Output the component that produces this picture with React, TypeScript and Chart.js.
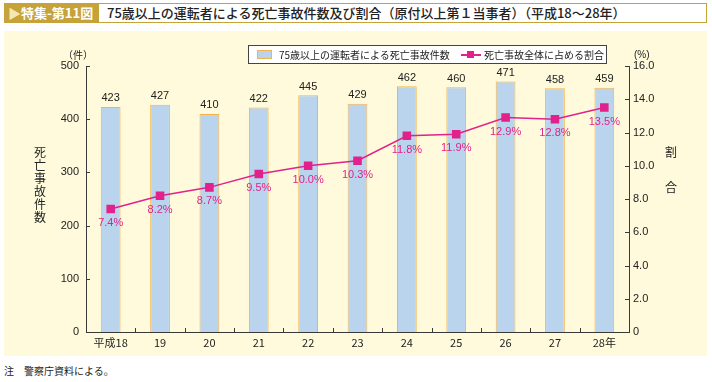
import React, { useEffect, useRef } from "react";
import { Chart, registerables } from "chart.js";

Chart.register(...registerables);

const categories = ["平成18", "19", "20", "21", "22", "23", "24", "25", "26", "27", "28年"];
const deathCounts = [423, 427, 410, 422, 445, 429, 462, 460, 471, 458, 459];
const deathRatios = [7.4, 8.2, 8.7, 9.5, 10.0, 10.3, 11.8, 11.9, 12.9, 12.8, 13.5];
const leftTicks = [0, 100, 200, 300, 400, 500];
const rightTicks = [0, 2, 4, 6, 8, 10, 12, 14, 16];

const JP = '"Noto Sans CJK JP", "Liberation Sans", sans-serif';
const NUM = '"Liberation Sans", Arial, sans-serif';
const MAGENTA = "#e2218b";
const AXIS = "#3a3a3a";

const labelPlugin = {
  id: "customLabels",
  afterDatasetsDraw(chart: any) {
    const ctx = chart.ctx;
    const x = chart.scales.x;
    const y = chart.scales.y;
    const y1 = chart.scales.y1;
    ctx.save();
    // inward ticks
    ctx.strokeStyle = AXIS;
    ctx.lineWidth = 1;
    ctx.beginPath();
    leftTicks.forEach((v) => {
      const py = Math.round(y.getPixelForValue(v)) + 0.5;
      ctx.moveTo(x.left, py);
      ctx.lineTo(x.left + 4, py);
    });
    rightTicks.forEach((v) => {
      const py = Math.round(y1.getPixelForValue(v)) + 0.5;
      ctx.moveTo(x.right, py);
      ctx.lineTo(x.right - 4, py);
    });
    for (let i = 1; i < categories.length; i++) {
      const px = Math.round((x.getPixelForValue(i - 1) + x.getPixelForValue(i)) / 2) + 0.5;
      ctx.moveTo(px, y.bottom);
      ctx.lineTo(px, y.bottom - 4);
    }
    ctx.stroke();

    // bar labels
    const barMeta = chart.getDatasetMeta(0);
    ctx.font = `11px ${NUM}`;
    ctx.fillStyle = "#222";
    ctx.textAlign = "center";
    ctx.textBaseline = "bottom";
    barMeta.data.forEach((el: any, i: number) => {
      ctx.fillText(String(deathCounts[i]), el.x, el.y - 3);
    });
    // line labels
    const lineMeta = chart.getDatasetMeta(1);
    ctx.fillStyle = MAGENTA;
    ctx.textBaseline = "middle";
    lineMeta.data.forEach((el: any, i: number) => {
      ctx.fillText(deathRatios[i].toFixed(1) + "%", el.x, el.y + 14);
    });
    ctx.restore();
  },
};

export default function App() {
  const ref = useRef<HTMLCanvasElement | null>(null);
  useEffect(() => {
    document.body.style.margin = "0";
    const chart = new Chart(ref.current as HTMLCanvasElement, {
      type: "bar",
      data: {
        labels: categories,
        datasets: [
          {
            type: "bar",
            label: "75歳以上の運転者による死亡事故件数",
            data: deathCounts,
            backgroundColor: "#bad4ee",
            borderColor: "#f3b24f",
            borderWidth: 1,
            borderSkipped: "bottom",
            categoryPercentage: 1,
            barPercentage: 0.4,
            yAxisID: "y",
            order: 2,
          },
          {
            type: "line",
            label: "死亡事故全体に占める割合",
            data: deathRatios,
            borderColor: MAGENTA,
            backgroundColor: MAGENTA,
            borderWidth: 1.5,
            pointStyle: "rect",
            pointRadius: 5,
            pointHoverRadius: 5,
            yAxisID: "y1",
            order: 1,
          },
        ] as any,
      },
      options: {
        responsive: false,
        animation: false,
        layout: { padding: { top: 35, left: 0, right: 0, bottom: 0 } },
        plugins: { legend: { display: false }, tooltip: { enabled: false } },
        scales: {
          x: {
            offset: true,
            grid: { display: false, drawTicks: false },
            border: { display: true, color: AXIS, width: 1 },
            ticks: { color: "#222", font: { size: 11, family: JP }, padding: 4, maxRotation: 0 },
            afterFit: (s: any) => { s.height = 24; },
          },
          y: {
            position: "left",
            min: 0,
            max: 500,
            grid: { display: false, drawTicks: false },
            border: { display: true, color: AXIS, width: 1 },
            ticks: { stepSize: 100, color: "#222", font: { size: 11, family: NUM }, padding: 7 },
            afterFit: (s: any) => { s.width = 82; },
          },
          y1: {
            position: "right",
            min: 0,
            max: 16,
            grid: { display: false, drawTicks: false },
            border: { display: true, color: AXIS, width: 1 },
            ticks: {
              stepSize: 2,
              color: "#222",
              font: { size: 11, family: NUM },
              padding: 4,
              callback: (v: any) => (v === 0 ? "0" : Number(v).toFixed(1)),
            },
            afterFit: (s: any) => { s.width = 78; },
          },
        },
      } as any,
      plugins: [labelPlugin],
    });
    return () => chart.destroy();
  }, []);

  const abs = (o: any) => ({ position: "absolute" as const, ...o });

  return (
    <div style={{ position: "relative", width: 712, height: 382, background: "#fff", fontFamily: JP, overflow: "hidden" }}>
      <div style={abs({ left: 4, top: 3, width: 94, height: 20, background: "#c6a23a", color: "#fff", fontSize: 13, fontWeight: 700, lineHeight: "20px", paddingLeft: 4, boxSizing: "border-box", whiteSpace: "nowrap" })}>
        <span style={{ color: "#f4e7b6" }}>▶</span>特集-第11図
      </div>
      <div style={abs({ left: 98, top: 3, width: 609, height: 20, border: "1px solid #c6a23a", background: "#fff", boxSizing: "border-box", fontSize: 13, fontWeight: 500, lineHeight: "18px", paddingLeft: 8, color: "#222", whiteSpace: "nowrap" })}>
        75歳以上の運転者による死亡事故件数及び割合（原付以上第１当事者）（平成18〜28年）
      </div>
      <div style={abs({ left: 4, top: 31, width: 703, height: 325, background: "#fefadb" })}>
        <canvas ref={ref} width={703} height={325} style={{ display: "block", width: 703, height: 325 }} />
        <div style={abs({ left: 244, top: 14, width: 359, height: 19, border: "1px solid #444", background: "#fff", boxSizing: "border-box", fontSize: 10, color: "#222", whiteSpace: "nowrap" })}>
          <div style={abs({ left: 8, top: 4, width: 15, height: 9, background: "#bad4ee", border: "1px solid #f3b24f", boxSizing: "border-box" })} />
          <div style={abs({ left: 30, top: 0, lineHeight: "17px" })}>75歳以上の運転者による死亡事故件数</div>
          <div style={abs({ left: 212, top: 8, width: 20, height: 1.5, background: MAGENTA })} />
          <div style={abs({ left: 218, top: 5, width: 7, height: 7, background: MAGENTA })} />
          <div style={abs({ left: 235, top: 0, lineHeight: "17px" })}>死亡事故全体に占める割合</div>
        </div>
        <div style={abs({ left: 59, top: 17, fontSize: 10, color: "#222", lineHeight: "14px" })}>（件）</div>
        <div style={abs({ left: 630, top: 17, fontSize: 10, color: "#222", lineHeight: "14px", fontFamily: NUM })}>(%)</div>
        <div style={abs({ left: 29, top: 114, width: 14, fontSize: 12, color: "#222", lineHeight: "13px", textAlign: "center" })}>
          {"死亡事故件数".split("").map((c, i) => <div key={i}>{c}</div>)}
        </div>
        <div style={abs({ left: 660, top: 114, width: 14, fontSize: 12, color: "#222", lineHeight: "14px", textAlign: "center" })}>割</div>
        <div style={abs({ left: 660, top: 149, width: 14, fontSize: 12, color: "#222", lineHeight: "14px", textAlign: "center" })}>合</div>
      </div>
      <div style={abs({ left: 4, top: 364, fontSize: 10, color: "#222", lineHeight: "14px", whiteSpace: "pre" })}>注　警察庁資料による。</div>
    </div>
  );
}
